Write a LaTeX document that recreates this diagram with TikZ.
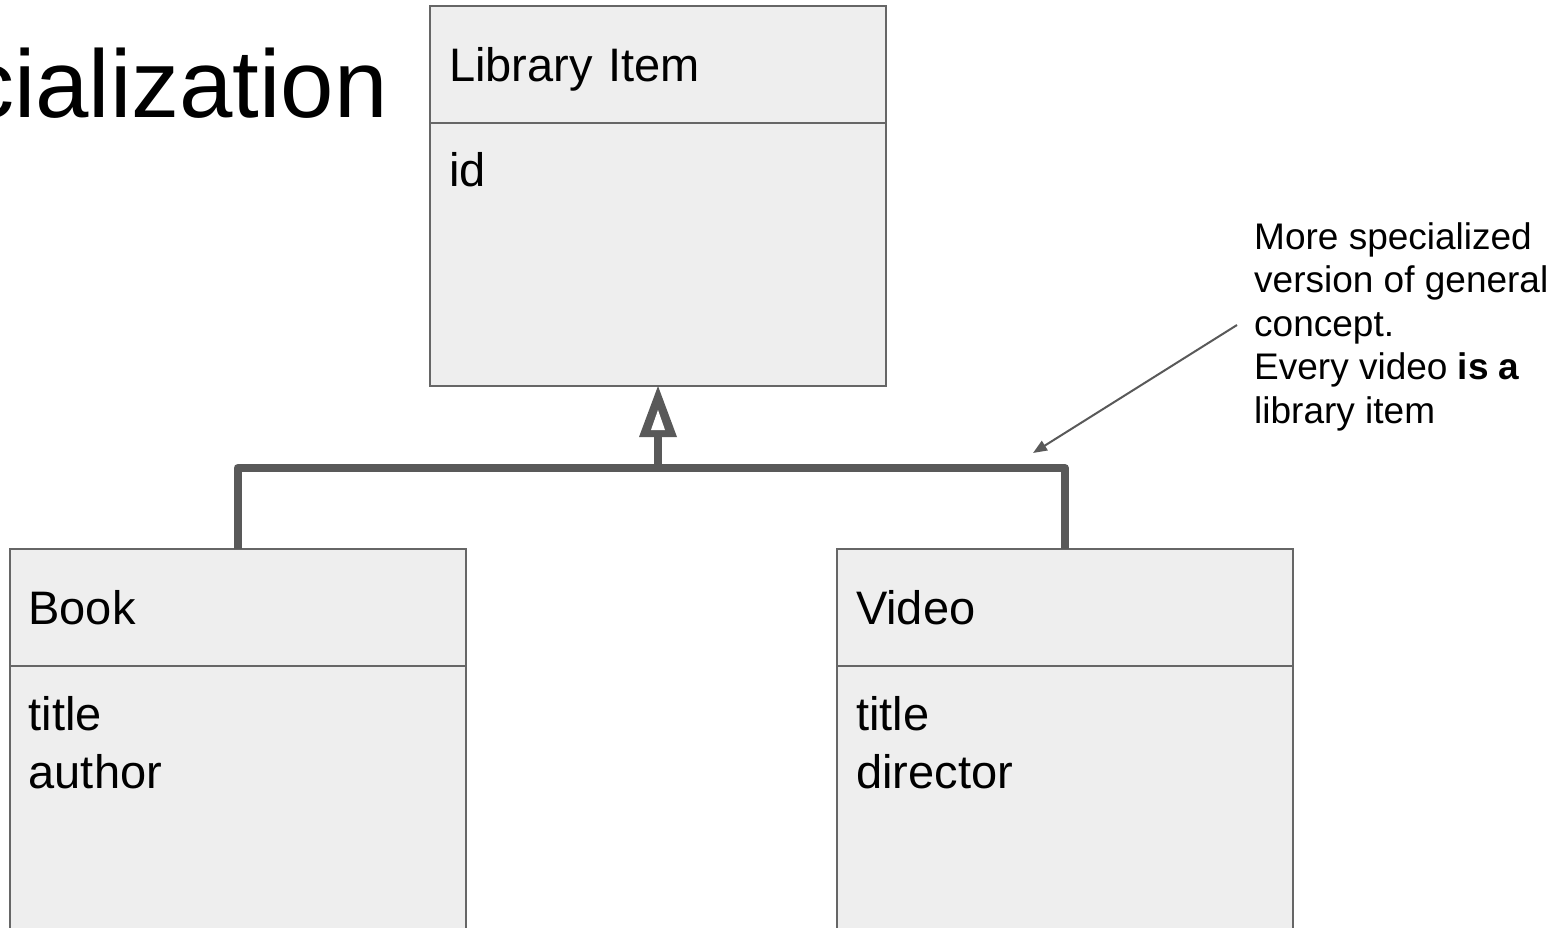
\documentclass[tikz,border=0pt]{standalone}
\usepackage{fontspec}
\setmainfont{Liberation Sans}
\usepackage{tikz}
\usetikzlibrary{arrows.meta,positioning}

\definecolor{boxfill}{HTML}{EEEEEE}
\definecolor{boxline}{HTML}{666666}
\definecolor{linkgray}{HTML}{595959}

\tikzset{
    classhead/.style={draw=boxline,fill=boxfill,line width=2pt,outer sep=0pt,
        minimum width=456,minimum height=117,inner xsep=19pt,text width=418pt,
        align=left,text height=34pt,text depth=0pt,font=\fontsize{47}{58}\selectfont},
    classbody/.style={draw=boxline,fill=boxfill,line width=2pt,outer sep=0pt,
        minimum width=456,minimum height=263},
    attrs/.style={inner sep=0pt,align=left,anchor=base west,font=\fontsize{47}{58.3}\selectfont},
    inherit/.style={draw=linkgray,line width=8pt,line join=round},
    pointer/.style={draw=linkgray,line width=2pt,-{Triangle[length=14pt,width=11pt]}},
}

\begin{document}
\begin{tikzpicture}[x=1pt,y=-1pt]
\useasboundingbox (0,0) rectangle (1566,928);

\node[anchor=base east,inner sep=0pt,font=\fontsize{96}{110}\selectfont] (title) at (388,118) {cialization};

% classes (multi-line attrs sit on their last baseline)
\node[classhead] (itemhead) at (658,64.5) {Library Item};
\node[classbody,below=0pt of itemhead] (itembody) {};
\node[attrs] (itemattrs) at ([shift={(19,64)}]itembody.north west) {id};

\node[classhead] (bookhead) at (237.5,607.5) {Book};
\node[classbody,minimum height=290,below=0pt of bookhead] (bookbody) {};
\node[attrs] (bookattrs) at ([shift={(19,122.3)}]bookbody.north west) {title\\author};

\node[classhead] (videohead) at (1065,607.5) {Video};
\node[classbody,minimum height=290,below=0pt of videohead] (videobody) {};
\node[attrs] (videoattrs) at ([shift={(19,122.3)}]videobody.north west) {title\\director};

% generalization
\coordinate (joint) at (658,468);
\coordinate (tribase) at ([shift={(0,51)}]itembody.south);
\draw[inherit] (bookhead.north) |- (joint) -| (videohead.north);
\draw[inherit] (joint) -- (tribase);
\fill[linkgray] (itembody.south) -- ([shift={(-19,0)}]tribase) -- ([shift={(19,0)}]tribase) -- cycle;
\fill[white] ([shift={(0,24)}]itembody.south) -- ([shift={(-7,-7)}]tribase) -- ([shift={(7,-7)}]tribase) -- cycle;

% note
\node[anchor=base west,inner sep=0pt,align=left,font=\fontsize{37}{43.5}\selectfont] (note) at (1254,423)
    {More specialized\\version of general\\concept.\\Every video \textbf{is a}\\library item};
\coordinate (notetail) at (1237,325);
\coordinate (notetip) at (1033,453);
\draw[pointer] (notetail) -- (notetip);
\end{tikzpicture}
\end{document}
